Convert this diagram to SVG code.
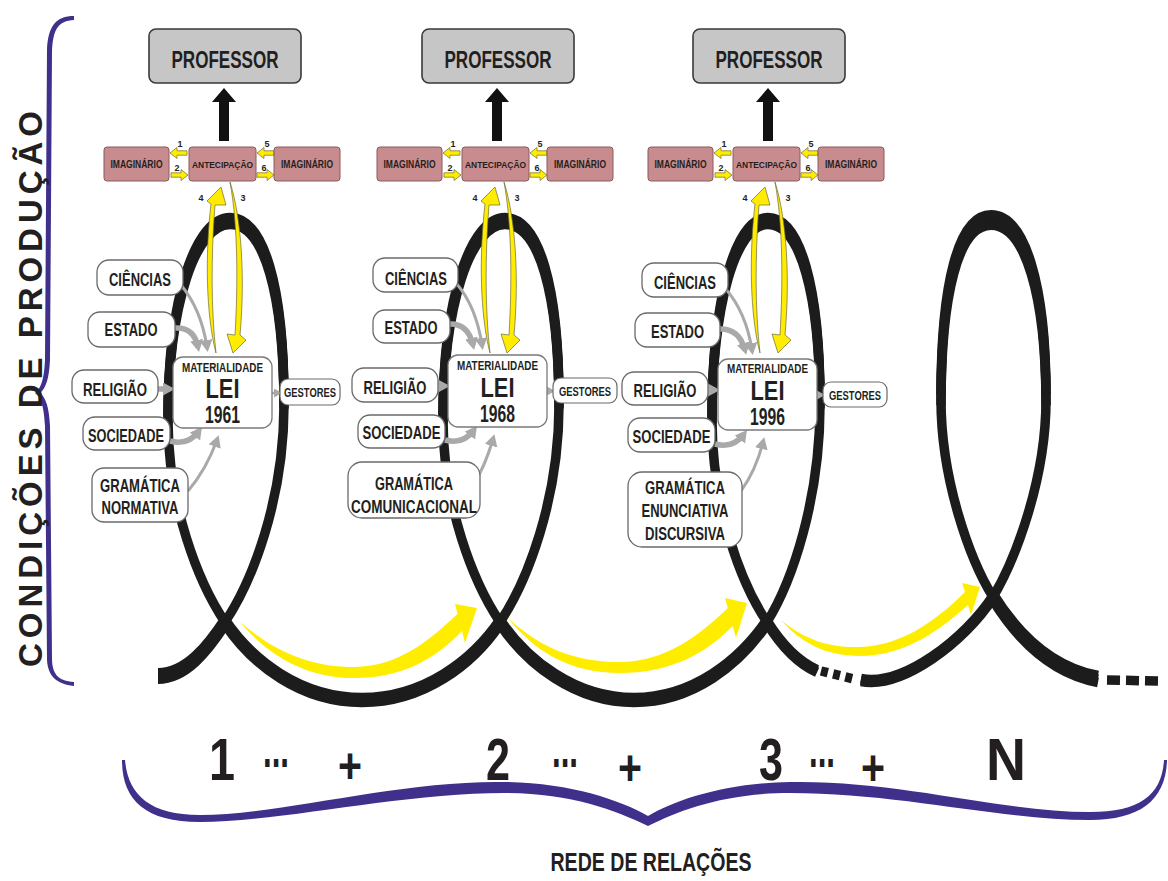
<svg xmlns="http://www.w3.org/2000/svg" width="1168" height="881" viewBox="0 0 1168 881">
<defs>
<style>
.t{font-family:"Liberation Sans",Arial,sans-serif;font-weight:bold;fill:#231f20;text-anchor:middle}
.prof rect{fill:#c6c6c6;stroke:#3a3a3a;stroke-width:1.6}
.prof text{font-size:23px}
.rose rect{fill:#c98c8e;stroke:#8a5a5c;stroke-width:1}
.rose text{font-size:10px}
.rose text.ant{font-size:9.5px}
.fac rect{fill:#fff;stroke:#6a6a6a;stroke-width:1.3}
.fac text{font-size:18px}
.lei rect{fill:#fff;stroke:#7a7a7a;stroke-width:1.3}
.ges rect{fill:#fff;stroke:#6a6a6a;stroke-width:1.2}
.ges text{font-size:12.5px}
.num{font-size:9px}
.loop{fill:none;stroke:#1c1c1c;stroke-width:9.5}
.ga{fill:none;stroke:#a9a9a9;marker-end:url(#gh)}
.gs{fill:none;stroke:#a9a9a9;stroke-width:2.5;marker-end:url(#gsh)}
.yl{fill:#ffec00;stroke:#6f6a3a;stroke-width:0.7;stroke-linejoin:round}
.yb{fill:#ffed00}
.brace{fill:#40308c}
.big{font-size:60px}
.plus{font-size:50px}
.dots{font-size:30px}
</style>
<marker id="gh" markerUnits="userSpaceOnUse" markerWidth="13" markerHeight="14" refX="7" refY="6.5" orient="auto"><path d="M0,0 L12,6.5 L0,13 Z" fill="#a9a9a9"/></marker>
<marker id="gsh" markerUnits="userSpaceOnUse" markerWidth="9" markerHeight="10" refX="4" refY="4.5" orient="auto"><path d="M0,0 L8,4.5 L0,9 Z" fill="#a9a9a9"/></marker>
<path id="sa" d="M0,-2.2 L10,-2.2 L10,-5.5 L17,0 L10,5.5 L10,2.2 L0,2.2 Z"/>
</defs>

<rect width="1168" height="881" fill="#fff"/>

<!-- braces and axis labels -->
<g id="brace-left">
<path class="brace" d="M74 16 C56 16 48 26 47 50 L45 360 C44 380 41 388 35 393 C41 398 44 406 45 426 L47 660 C48 676 56 684 74 686 L74 682 C58 681 52 674 52 658 L50 426 C49 407 46 398 40 393 C46 388 49 379 50 360 L52 52 C53 29 58 21 74 20 Z"/>
<text class="t" font-size="33" transform="translate(42,389) rotate(-90)" textLength="556" lengthAdjust="spacing">CONDIÇÕES DE PRODUÇÃO</text>
</g>
<g id="brace-bottom">
<path class="brace" d="M125 760 C128 795 150 815 200 815 C280 815 400 780 505 782 C570 783 620 800 648 816 C675 800 725 783 790 782 C900 780 1000 812 1090 812 C1140 812 1162 795 1164 760 L1167 760 C1166 800 1140 820 1090 820 C1000 820 900 793 790 793 C725 793 680 810 648 826 C615 810 570 793 505 793 C400 793 280 822 200 822 C145 822 122 800 122 760 Z"/>
<text class="t" x="651" y="871" font-size="25" textLength="201" lengthAdjust="spacingAndGlyphs">REDE DE RELAÇÕES</text>
</g>
<g id="sequence">
<text class="t big" x="222" y="780" textLength="26" lengthAdjust="spacingAndGlyphs">1</text>
<text class="t dots" transform="translate(276,767) scale(1,1.8)" textLength="26" lengthAdjust="spacingAndGlyphs">...</text>
<text class="t plus" x="350" y="783" textLength="24" lengthAdjust="spacingAndGlyphs">+</text>
<text class="t big" x="498" y="780" textLength="24" lengthAdjust="spacingAndGlyphs">2</text>
<text class="t dots" transform="translate(565,767) scale(1,1.8)" textLength="26" lengthAdjust="spacingAndGlyphs">...</text>
<text class="t plus" x="630" y="785" textLength="24" lengthAdjust="spacingAndGlyphs">+</text>
<text class="t big" x="771" y="780" textLength="24" lengthAdjust="spacingAndGlyphs">3</text>
<text class="t dots" transform="translate(822,767) scale(1,1.8)" textLength="26" lengthAdjust="spacingAndGlyphs">...</text>
<text class="t plus" x="873" y="785" textLength="24" lengthAdjust="spacingAndGlyphs">+</text>
<text class="t big" x="1006" y="780" textLength="40" lengthAdjust="spacingAndGlyphs">N</text>
</g>

<!-- connectors: looping line, progression arrows, links between boxes -->
<g id="connectors">
<g id="loop-line">
<path class="loop" d="M158 676 C186 676 208 648 225 622 C252 582 284 500 284 405 C284 290 264 221 230 221 C196 221 168 300 168 420 C168 505 198 582 225 622 C252 662 300 700 362 700 C424 700 473 662 500 622 C527 582 559 500 559 405 C559 290 539 221 505 221 C471 221 443 300 443 420 C443 505 473 582 500 622 C527 662 575 700 634 700 C693 700 740 662 767 622 C792 582 820 500 820 405 C820 290 800 221 768 221 C736 221 712 300 712 420 C712 505 740 582 767 622 C780 643 797 662 817 671"/>
<path class="loop" d="M861 680 C903 688 965 640 993 597 C1015 560 1046 480 1046 400 C1046 290 1025 220 991 220 C958 220 941 290 941 400 C941 480 970 560 993 597 C1016 634 1050 670 1098 679"/>
<path class="loop" stroke-width="13" stroke-dasharray="7 5.5" d="M821 671 L854 679"/>
<path class="loop" stroke-width="16" stroke-dasharray="13 6" d="M1107 680 L1158 681"/>
<!-- heavier top arcs and bottom swings -->
<g class="loop">
<path transform="translate(0,-3.5)" d="M284 405 C284 290 264 221 230 221 C196 221 168 300 168 420"/>
<path transform="translate(0,3.5)" d="M284 405 C284 290 264 221 230 221 C196 221 168 300 168 420"/>
<path transform="translate(0,-3.5)" d="M559 405 C559 290 539 221 505 221 C471 221 443 300 443 420"/>
<path transform="translate(0,3.5)" d="M559 405 C559 290 539 221 505 221 C471 221 443 300 443 420"/>
<path transform="translate(0,-3.5)" d="M820 405 C820 290 800 221 768 221 C736 221 712 300 712 420"/>
<path transform="translate(0,3.5)" d="M820 405 C820 290 800 221 768 221 C736 221 712 300 712 420"/>
<path transform="translate(0,-5.2)" d="M1046 400 C1046 290 1025 220 991 220 C958 220 941 290 941 400"/>
<path transform="translate(0,5.2)" d="M1046 400 C1046 290 1025 220 991 220 C958 220 941 290 941 400"/>
<path transform="translate(0,-2.5)" d="M225 622 C252 662 300 700 362 700 C424 700 473 662 500 622"/>
<path transform="translate(0,2.5)" d="M225 622 C252 662 300 700 362 700 C424 700 473 662 500 622"/>
<path transform="translate(0,-2.5)" d="M500 622 C527 662 575 700 634 700 C693 700 740 662 767 622"/>
<path transform="translate(0,2.5)" d="M500 622 C527 662 575 700 634 700 C693 700 740 662 767 622"/>
<path transform="translate(0,-3.2)" d="M158 676 C186 676 208 648 225 622"/>
<path transform="translate(0,3.2)" d="M158 676 C186 676 208 648 225 622"/>
<path transform="translate(0,-3.5)" d="M993 597 C1016 634 1050 670 1098 679"/>
<path transform="translate(0,3.5)" d="M993 597 C1016 634 1050 670 1098 679"/>
<path transform="translate(0,-1.5)" d="M861 680 C903 688 965 640 993 597"/>
<path transform="translate(0,1.5)" d="M861 680 C903 688 965 640 993 597"/>
<path transform="translate(0,-1.5)" d="M767 622 C780 643 797 662 817 671"/>
<path transform="translate(0,1.5)" d="M767 622 C780 643 797 662 817 671"/>
</g>
</g>

<g id="progress-arrows">
<path class="yb" d="M240 622 C275 652 310 667 355 667 C400 666 430 640 457.5 613.8 L455 604 L477 608 L465 643 L462 631 C435 660 400 678 355 678 C305 678 268 655 240 622 Z"/>
<path class="yb" d="M507 617 C540 648 575 662 620 662 C665 662 700 635 727.8 608 L725 598 L747 603 L736 638 L732.7 626 C705 655 668 673 620 673 C570 673 535 652 507 617 Z"/>
<path class="yb" d="M781 620 C805 640 830 648 860 647 C900 646 935 622 965 592 L962 583 L980 587 L971 615 L968 605 C940 630 905 656 860 656 C825 656 800 642 781 620 Z"/>
</g>

<!-- anticipation / professor links -->
<g id="links-1">
<path d="M219 141 L219 102 L212 102 L224 88 L236 102 L229 102 L229 141 Z" fill="#111"/>
<use href="#sa" class="yl" transform="translate(187,153) scale(-1,1)"/>
<use href="#sa" class="yl" transform="translate(171,175)"/>
<use href="#sa" class="yl" transform="translate(274,153) scale(-1,1)"/>
<use href="#sa" class="yl" transform="translate(257,175)"/>
<text class="t num" x="180" y="147">1</text>
<text class="t num" x="177" y="171">2</text>
<text class="t num" x="267" y="147">5</text>
<text class="t num" x="264" y="171">6</text>
<path class="yl" d="M216 353 C206 315 205 255 211 204 L207 201 L221 187 L226 205 L215 205 C211 255 211 310 216 353 Z"/>
<path class="yl" d="M230 182 C242 220 245 280 240 335 L246 340 L233 353 L227 334 L235 335 C238 285 238 225 230 182 Z"/>
<text class="t num" x="201" y="201">4</text>
<text class="t num" x="243" y="201">3</text>
</g>
<g id="links-2" transform="translate(273,0)">
<path d="M219 141 L219 102 L212 102 L224 88 L236 102 L229 102 L229 141 Z" fill="#111"/>
<use href="#sa" class="yl" transform="translate(187,153) scale(-1,1)"/>
<use href="#sa" class="yl" transform="translate(171,175)"/>
<use href="#sa" class="yl" transform="translate(274,153) scale(-1,1)"/>
<use href="#sa" class="yl" transform="translate(257,175)"/>
<text class="t num" x="180" y="147">1</text>
<text class="t num" x="177" y="171">2</text>
<text class="t num" x="267" y="147">5</text>
<text class="t num" x="264" y="171">6</text>
<path class="yl" transform="translate(1,0)" d="M216 353 C206 315 205 255 211 204 L207 201 L221 187 L226 205 L215 205 C211 255 211 310 216 353 Z"/>
<path class="yl" transform="translate(1,0)" d="M230 182 C242 220 245 280 240 335 L246 340 L233 353 L227 334 L235 335 C238 285 238 225 230 182 Z"/>
<text class="t num" x="202" y="201">4</text>
<text class="t num" x="244" y="201">3</text>
</g>
<g id="links-3" transform="translate(544,0)">
<path d="M219 141 L219 102 L212 102 L224 88 L236 102 L229 102 L229 141 Z" fill="#111"/>
<use href="#sa" class="yl" transform="translate(187,153) scale(-1,1)"/>
<use href="#sa" class="yl" transform="translate(171,175)"/>
<use href="#sa" class="yl" transform="translate(274,153) scale(-1,1)"/>
<use href="#sa" class="yl" transform="translate(257,175)"/>
<text class="t num" x="180" y="147">1</text>
<text class="t num" x="177" y="171">2</text>
<text class="t num" x="267" y="147">5</text>
<text class="t num" x="264" y="171">6</text>
<path class="yl" d="M216 353 C206 315 205 255 211 204 L207 201 L221 187 L226 205 L215 205 C211 255 211 310 216 353 Z"/>
<path class="yl" transform="translate(1,0)" d="M230 182 C242 220 245 280 240 335 L246 340 L233 353 L227 334 L235 335 C238 285 238 225 230 182 Z"/>
<text class="t num" x="201" y="201">4</text>
<text class="t num" x="244" y="201">3</text>
</g>

<!-- influences feeding each law -->
<g id="influences">
<path class="ga" stroke-width="3" d="M181 285 Q201 309 207 347"/>
<path class="ga" stroke-width="5.5" d="M175 328 Q194 327 198 347"/>
<path class="ga" stroke-width="5.5" d="M158 389 L170 389"/>
<path class="ga" stroke-width="5.5" d="M170 441 Q188 446 199 431"/>
<path class="ga" stroke-width="3" d="M188 491 Q206 470 217 440"/>
<path class="gs" d="M272 393 L278 393"/>

<path class="ga" stroke-width="3" d="M456 283 Q476 306 482 345"/>
<path class="ga" stroke-width="5.5" d="M449 324 Q468 323 473 345"/>
<path class="ga" stroke-width="5.5" d="M437 386 L445 386"/>
<path class="ga" stroke-width="5.5" d="M445 440 Q463 445 474 430"/>
<path class="ga" stroke-width="3" d="M472 487 Q485 467 493 439"/>
<path class="gs" d="M547 391 L551 391"/>

<path class="ga" stroke-width="3" d="M725 288 Q746 312 752 350"/>
<path class="ga" stroke-width="5.5" d="M719 329 Q739 328 745 350"/>
<path class="ga" stroke-width="5.5" d="M708 390 L715 390"/>
<path class="ga" stroke-width="5.5" d="M715 444 Q733 449 744 434"/>
<path class="ga" stroke-width="3" d="M741 491 Q756 470 763 442"/>
<path class="gs" d="M817 395 L821 395"/>
</g>
</g>

<!-- column 1 : 1961 -->
<g id="professor-1" class="prof"><rect x="149" y="29" width="152" height="54" rx="7"/><text class="t" x="225" y="68" textLength="107" lengthAdjust="spacingAndGlyphs">PROFESSOR</text></g>
<g id="imaginario-1a" class="rose"><rect x="104" y="147" width="65" height="34" rx="3"/><text class="t" x="136.5" y="167.5" textLength="52" lengthAdjust="spacingAndGlyphs">IMAGINÁRIO</text></g>
<g id="antecipacao-1" class="rose"><rect x="189" y="147" width="67" height="34" rx="3"/><text class="t ant" x="222.5" y="167.5" textLength="61" lengthAdjust="spacingAndGlyphs">ANTECIPAÇÃO</text></g>
<g id="imaginario-1b" class="rose"><rect x="274" y="147" width="66" height="34" rx="3"/><text class="t" x="307" y="167.5" textLength="52" lengthAdjust="spacingAndGlyphs">IMAGINÁRIO</text></g>
<g id="ciencias-1" class="fac"><rect x="97" y="260" width="86" height="35" rx="12"/><text class="t" x="140" y="285.5" textLength="62" lengthAdjust="spacingAndGlyphs">CIÊNCIAS</text></g>
<g id="estado-1" class="fac"><rect x="88" y="312" width="87" height="35" rx="12"/><text class="t" x="131" y="335.5" textLength="53" lengthAdjust="spacingAndGlyphs">ESTADO</text></g>
<g id="religiao-1" class="fac"><rect x="72" y="370" width="86" height="33" rx="12"/><text class="t" x="115" y="396" textLength="64" lengthAdjust="spacingAndGlyphs">RELIGIÃO</text></g>
<g id="sociedade-1" class="fac"><rect x="83" y="417" width="87" height="33" rx="12"/><text class="t" x="126" y="441.5" textLength="76" lengthAdjust="spacingAndGlyphs">SOCIEDADE</text></g>
<g id="gramatica-1" class="fac"><rect x="92" y="468" width="96" height="54" rx="12"/><text class="t" x="140" y="492" textLength="80" lengthAdjust="spacingAndGlyphs">GRAMÁTICA</text><text class="t" x="140" y="513.5" textLength="77" lengthAdjust="spacingAndGlyphs">NORMATIVA</text></g>
<g id="lei-1" class="lei"><rect x="173" y="357" width="99" height="71" rx="10"/><text class="t" x="222.5" y="372" font-size="13.5" textLength="81" lengthAdjust="spacingAndGlyphs">MATERIALIDADE</text><text class="t" x="222.5" y="398" font-size="28" textLength="34" lengthAdjust="spacingAndGlyphs">LEI</text><text class="t" x="222.5" y="423" font-size="23" textLength="35" lengthAdjust="spacingAndGlyphs">1961</text></g>
<g id="gestores-1" class="ges"><rect x="280" y="379" width="60" height="26" rx="8"/><text class="t" x="310" y="396.5" textLength="52" lengthAdjust="spacingAndGlyphs">GESTORES</text></g>

<!-- column 2 : 1968 -->
<g id="professor-2" class="prof" transform="translate(273,0)"><rect x="149" y="29" width="152" height="54" rx="7"/><text class="t" x="225" y="68" textLength="107" lengthAdjust="spacingAndGlyphs">PROFESSOR</text></g>
<g id="imaginario-2a" class="rose" transform="translate(273,0)"><rect x="104" y="147" width="65" height="34" rx="3"/><text class="t" x="136.5" y="167.5" textLength="52" lengthAdjust="spacingAndGlyphs">IMAGINÁRIO</text></g>
<g id="antecipacao-2" class="rose" transform="translate(273,0)"><rect x="189" y="147" width="67" height="34" rx="3"/><text class="t ant" x="222.5" y="167.5" textLength="61" lengthAdjust="spacingAndGlyphs">ANTECIPAÇÃO</text></g>
<g id="imaginario-2b" class="rose" transform="translate(273,0)"><rect x="274" y="147" width="66" height="34" rx="3"/><text class="t" x="307" y="167.5" textLength="52" lengthAdjust="spacingAndGlyphs">IMAGINÁRIO</text></g>
<g id="ciencias-2" class="fac"><rect x="373" y="258" width="85" height="34" rx="12"/><text class="t" x="416" y="284.5" textLength="62" lengthAdjust="spacingAndGlyphs">CIÊNCIAS</text></g>
<g id="estado-2" class="fac"><rect x="373" y="310" width="77" height="33" rx="12"/><text class="t" x="411" y="333.5" textLength="53" lengthAdjust="spacingAndGlyphs">ESTADO</text></g>
<g id="religiao-2" class="fac"><rect x="352" y="368" width="86" height="34" rx="12"/><text class="t" x="395" y="393.5" textLength="63" lengthAdjust="spacingAndGlyphs">RELIGIÃO</text></g>
<g id="sociedade-2" class="fac"><rect x="358" y="415" width="87" height="33" rx="12"/><text class="t" x="401.5" y="438.5" textLength="78" lengthAdjust="spacingAndGlyphs">SOCIEDADE</text></g>
<g id="gramatica-2" class="fac"><rect x="348" y="462" width="132" height="56" rx="14"/><text class="t" x="414" y="490" textLength="78" lengthAdjust="spacingAndGlyphs">GRAMÁTICA</text><text class="t" x="414" y="513" textLength="126" lengthAdjust="spacingAndGlyphs">COMUNICACIONAL</text></g>
<g id="lei-2" class="lei"><rect x="448" y="355" width="99" height="72" rx="10"/><text class="t" x="497.5" y="370" font-size="13.5" textLength="81" lengthAdjust="spacingAndGlyphs">MATERIALIDADE</text><text class="t" x="497.5" y="397" font-size="28" textLength="34" lengthAdjust="spacingAndGlyphs">LEI</text><text class="t" x="497.5" y="422" font-size="23" textLength="35" lengthAdjust="spacingAndGlyphs">1968</text></g>
<g id="gestores-2" class="ges"><rect x="553" y="378" width="64" height="25" rx="8"/><text class="t" x="585" y="395.5" textLength="52" lengthAdjust="spacingAndGlyphs">GESTORES</text></g>

<!-- column 3 : 1996 -->
<g id="professor-3" class="prof" transform="translate(544,0)"><rect x="149" y="29" width="152" height="54" rx="7"/><text class="t" x="225" y="68" textLength="107" lengthAdjust="spacingAndGlyphs">PROFESSOR</text></g>
<g id="imaginario-3a" class="rose" transform="translate(544,0)"><rect x="104" y="147" width="65" height="34" rx="3"/><text class="t" x="136.5" y="167.5" textLength="52" lengthAdjust="spacingAndGlyphs">IMAGINÁRIO</text></g>
<g id="antecipacao-3" class="rose" transform="translate(544,0)"><rect x="189" y="147" width="67" height="34" rx="3"/><text class="t ant" x="222.5" y="167.5" textLength="61" lengthAdjust="spacingAndGlyphs">ANTECIPAÇÃO</text></g>
<g id="imaginario-3b" class="rose" transform="translate(544,0)"><rect x="274" y="147" width="66" height="34" rx="3"/><text class="t" x="307" y="167.5" textLength="52" lengthAdjust="spacingAndGlyphs">IMAGINÁRIO</text></g>
<g id="ciencias-3" class="fac"><rect x="642" y="263" width="86" height="34" rx="12"/><text class="t" x="685" y="288.5" textLength="62" lengthAdjust="spacingAndGlyphs">CIÊNCIAS</text></g>
<g id="estado-3" class="fac"><rect x="635" y="313" width="85" height="34" rx="12"/><text class="t" x="677.5" y="337.5" textLength="53" lengthAdjust="spacingAndGlyphs">ESTADO</text></g>
<g id="religiao-3" class="fac"><rect x="622" y="372" width="86" height="33" rx="12"/><text class="t" x="665" y="397" textLength="63" lengthAdjust="spacingAndGlyphs">RELIGIÃO</text></g>
<g id="sociedade-3" class="fac"><rect x="628" y="418" width="87" height="34" rx="12"/><text class="t" x="671.5" y="442.5" textLength="78" lengthAdjust="spacingAndGlyphs">SOCIEDADE</text></g>
<g id="gramatica-3" class="fac"><rect x="628" y="472" width="114" height="75" rx="14"/><text class="t" x="685" y="493.5" textLength="80" lengthAdjust="spacingAndGlyphs">GRAMÁTICA</text><text class="t" x="685" y="516.5" textLength="87" lengthAdjust="spacingAndGlyphs">ENUNCIATIVA</text><text class="t" x="685" y="539.5" textLength="80" lengthAdjust="spacingAndGlyphs">DISCURSIVA</text></g>
<g id="lei-3" class="lei"><rect x="718" y="359" width="99" height="71" rx="10"/><text class="t" x="767.5" y="373" font-size="13.5" textLength="81" lengthAdjust="spacingAndGlyphs">MATERIALIDADE</text><text class="t" x="767.5" y="400" font-size="28" textLength="34" lengthAdjust="spacingAndGlyphs">LEI</text><text class="t" x="767.5" y="425" font-size="23" textLength="35" lengthAdjust="spacingAndGlyphs">1996</text></g>
<g id="gestores-3" class="ges"><rect x="823" y="382" width="64" height="25" rx="8"/><text class="t" x="855" y="399.5" textLength="52" lengthAdjust="spacingAndGlyphs">GESTORES</text></g>
</svg>
